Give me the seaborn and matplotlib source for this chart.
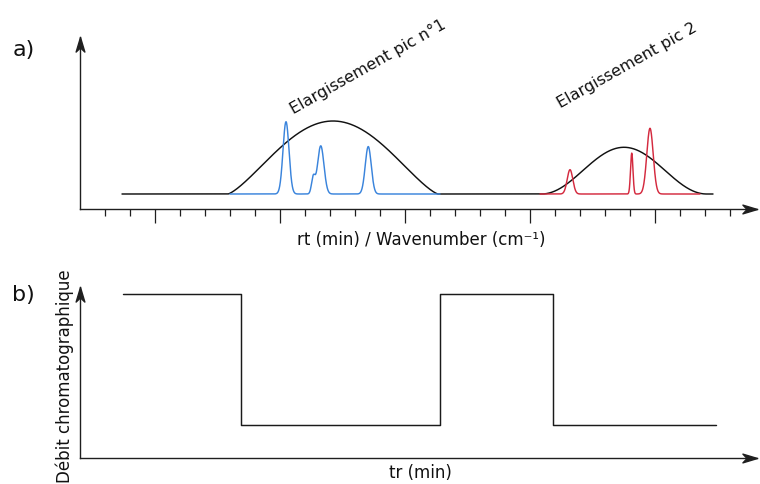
import numpy as np
import pandas as pd
import matplotlib
matplotlib.use("Agg")
import matplotlib.pyplot as plt
import seaborn as sns
from matplotlib.path import Path

# ---------------- data (x in min: one tick = 1 min; intensity in a.u.) ----------------
# panel a : broad envelopes (black)
env_centers = [10.12, 21.76]
env_halfwidths = [4.2, 3.3]
env_heights = [1.0, 0.64]
env_shapes = [1.3, 2.0]
env_range = [1.68, 25.32]

# narrow peaks of band 1 (blue)
blue_centers = [8.24, 9.33, 9.63, 11.53]
blue_heights = [0.99, 0.22, 0.66, 0.65]
blue_sigmas = [0.12, 0.07, 0.128, 0.12]
blue_range = [6.0, 14.4]

# narrow peaks of band 2 (red)
red_centers = [19.6, 22.07, 22.8]
red_heights = [0.333, 0.56, 0.90]
red_sigmas = [0.112, 0.048, 0.128]
red_range = [18.4, 24.8]

major_ticks = [3, 8, 13, 18, 23]
minor_ticks = [1, 2, 4, 5, 6, 7, 9, 10, 11, 12, 14, 15, 16, 17, 19, 20, 21, 22, 24, 25, 26]

# panel b : flow program
flow_times = [1.72, 6.44, 14.4, 18.92, 25.44]
flow_values = [1.0, 0.2, 1.0, 0.2, 0.2]

labels = {
    "a": "a)",
    "b": "b)",
    "xa": "rt (min) / Wavenumber (cm\u207b\u00b9)",
    "xb": "tr (min)",
    "yb": "Débit chromatographique",
    "pk1": "Elargissement pic n°1",
    "pk2": "Elargissement pic 2",
}


def envelope(x):
    y = np.zeros_like(x)
    for c, w, h, p in zip(env_centers, env_halfwidths, env_heights, env_shapes):
        u = (x - c) / w
        y += np.where(np.abs(u) < 1, h * np.cos(np.pi / 2 * np.clip(u, -1, 1)) ** p, 0.0)
    return y


def peaks(x, centers, heights, sigmas):
    y = np.zeros_like(x)
    for c, h, s in zip(centers, heights, sigmas):
        y += h * np.exp(-0.5 * ((x - c) / s) ** 2)
    return y


sns.set_theme(style="white")
plt.rcParams["font.family"] = ["DejaVu Sans"]

W, H = 760, 485
fig = plt.figure(figsize=(W / 100, H / 100), dpi=100)
ax_a = fig.add_axes([80 / W, 275 / H, 677 / W, 172 / H])
ax_b = fig.add_axes([80 / W, 26 / H, 677 / W, 171 / H])

AX_COL = "#1f1f1f"
BLUE = "#3a84dc"
RED = "#d42a3f"

# ---- panel a curves ----
xe = np.linspace(env_range[0], env_range[1], 4000)
df_env = pd.DataFrame({"x": xe, "y": envelope(xe)})
sns.lineplot(data=df_env, x="x", y="y", ax=ax_a, color="#111111", linewidth=1.05, estimator=None)

xb = np.linspace(blue_range[0], blue_range[1], 3000)
df_blue = pd.DataFrame({"x": xb, "y": peaks(xb, blue_centers, blue_heights, blue_sigmas)})
sns.lineplot(data=df_blue, x="x", y="y", ax=ax_a, color=BLUE, linewidth=1.05, estimator=None)

xr = np.linspace(red_range[0], red_range[1], 3000)
df_red = pd.DataFrame({"x": xr, "y": peaks(xr, red_centers, red_heights, red_sigmas)})
sns.lineplot(data=df_red, x="x", y="y", ax=ax_a, color=RED, linewidth=1.05, estimator=None)

ax_a.set_xlim(0, 677 / 25)
ax_a.set_ylim(-15 / 73, 157 / 73)

# ---- panel b ----
df_flow = pd.DataFrame({"t": flow_times, "q": flow_values})
sns.lineplot(data=df_flow, x="t", y="q", ax=ax_b, color="#1a1a1a", linewidth=1.05,
             drawstyle="steps-post", estimator=None)
ax_b.set_xlim(0, 677 / 25)
ax_b.set_ylim(0, 171 / 164)

# ---- axes styling with arrows ----
head_h = Path([(0, 0), (-14, 4.2), (-10, 0), (-14, -4.2), (0, 0)],
              [Path.MOVETO, Path.LINETO, Path.LINETO, Path.LINETO, Path.CLOSEPOLY])
head_v = Path([(0, 0), (-4.2, -14), (0, -10), (4.2, -14), (0, 0)],
              [Path.MOVETO, Path.LINETO, Path.LINETO, Path.LINETO, Path.CLOSEPOLY])

for ax in (ax_a, ax_b):
    ax.set_facecolor("none")
    for s in ("top", "right"):
        ax.spines[s].set_visible(False)
    for s in ("left", "bottom"):
        ax.spines[s].set_color(AX_COL)
        ax.spines[s].set_linewidth(1.0)
    ax.set_yticks([])
    ax.plot([1], [0], transform=ax.transAxes, marker=head_h, ms=21, color=AX_COL,
            clip_on=False, zorder=5)
    ax.plot([0], [1], transform=ax.transAxes, marker=head_v, ms=21, color=AX_COL,
            clip_on=False, zorder=5)

ax_a.set_xticks(major_ticks)
ax_a.set_xticks(minor_ticks, minor=True)
ax_a.tick_params(axis="x", which="major", direction="out", length=10, width=0.9,
                 color=AX_COL, labelbottom=False, bottom=True)
ax_a.tick_params(axis="x", which="minor", direction="out", length=5, width=0.9,
                 color=AX_COL, bottom=True)
ax_b.set_xticks([])

TXT = "#111111"
ax_a.set_xlabel(labels["xa"], fontsize=12, color=TXT)
ax_a.xaxis.set_label_coords((421 - 80) / 677, (210 - 240) / 172)
ax_a.xaxis.label.set_verticalalignment("center")
ax_a.set_ylabel("")

ax_b.set_xlabel(labels["xb"], fontsize=12, color=TXT)
ax_b.xaxis.set_label_coords((420 - 80) / 677, (459 - 473) / 171)
ax_b.xaxis.label.set_verticalalignment("center")
ax_b.set_ylabel(labels["yb"], fontsize=12, color=TXT)
ax_b.yaxis.set_label_coords((65 - 80) / 677, (459 - 376) / 171)
ax_b.yaxis.label.set_verticalalignment("center")

fig.text(23.5 / W, 1 - 50 / H, labels["a"], fontsize=16, color=TXT, ha="center", va="center")
fig.text(23.5 / W, 1 - 295 / H, labels["b"], fontsize=16, color=TXT, ha="center", va="center")
fig.text(368 / W, 1 - 67 / H, labels["pk1"], fontsize=11.5, color=TXT, rotation=29.5,
         ha="center", va="center")
fig.text(627 / W, 1 - 66 / H, labels["pk2"], fontsize=11.5, color=TXT, rotation=29.5,
         ha="center", va="center")

fig.savefig("out.png", dpi=100)
